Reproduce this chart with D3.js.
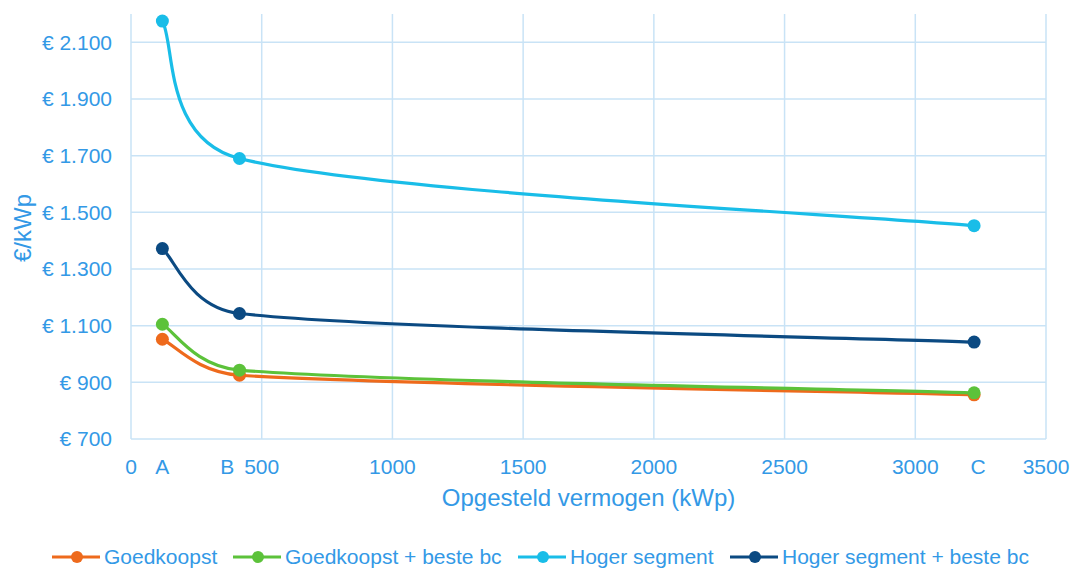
<!DOCTYPE html>
<html>
<head>
<meta charset="utf-8">
<script src="https://cdn.jsdelivr.net/npm/d3@7"></script>
<style>
  body { margin: 0; background: #fff; }
  text { font-family: "Liberation Sans", Arial, sans-serif; fill: #3399e6; }
</style>
</head>
<body>
<div id="chart"></div>
<script>
// data
let capacity = [120, 415, 3225];
let pointLabels = ["A", "B", "C"];
let labelPos = [120, 368, 3240];
let goedkoopst = [1052, 925, 856];
let goedkoopstBc = [1105, 943, 863];
let hoger = [2175, 1690, 1453];
let hogerBc = [1372, 1143, 1042];
let seriesNames = ["Goedkoopst", "Goedkoopst + beste bc", "Hoger segment", "Hoger segment + beste bc"];
let seriesColors = ["#ee6a1c", "#5cc23a", "#19bde8", "#0b4a82"];
let xTicks = [0, 500, 1000, 1500, 2000, 2500, 3000, 3500];
let yTicks = [700, 900, 1100, 1300, 1500, 1700, 1900, 2100];

// spreadsheet-style smoothed line: bezier handles of 1/6 of the neighbour chord,
// capped at half of the segment length
function SmoothCurve(context) {
    this._context = context;
}
SmoothCurve.prototype = {
    areaStart: function() { this._line = 0; },
    areaEnd: function() { this._line = NaN; },
    lineStart: function() { this._pts = []; },
    point: function(x, y) { this._pts.push([+x, +y]); },
    lineEnd: function() {
        let p = this._pts, c = this._context, n = p.length;
        if (!n) return;
        c.moveTo(p[0][0], p[0][1]);
        let handle = function(a, b, seg) {
            let dx = (b[0] - a[0]) / 6, dy = (b[1] - a[1]) / 6;
            let len = Math.hypot(dx, dy), cap = seg / 2;
            if (len > cap && len > 0) { dx *= cap / len; dy *= cap / len; }
            return [dx, dy];
        };
        for (let i = 0; i < n - 1; i++) {
            let p0 = p[Math.max(i - 1, 0)], p1 = p[i], p2 = p[i + 1], p3 = p[Math.min(i + 2, n - 1)];
            let seg = Math.hypot(p2[0] - p1[0], p2[1] - p1[1]);
            let h1 = handle(p0, p2, seg), h2 = handle(p1, p3, seg);
            c.bezierCurveTo(p1[0] + h1[0], p1[1] + h1[1], p2[0] - h2[0], p2[1] - h2[1], p2[0], p2[1]);
        }
    }
};
let curveSmooth = context => new SmoothCurve(context);

function gen_chart() {
    let width = 1075, height = 570;
    let margin = {left: 131, right: 29, top: 14, bottom: 131};

    let svg = d3.select("#chart").append("svg")
        .attr("width", width)
        .attr("height", height);

    let x = d3.scaleLinear().domain([0, 3500]).range([margin.left, width - margin.right]);
    let y = d3.scaleLinear().domain([700, 2200]).range([height - margin.bottom, margin.top]);

    let grid = "#c9e3f6";

    // gridlines
    svg.append("g").selectAll("line.v")
        .data(xTicks)
        .enter().append("line")
        .attr("x1", d => x(d)).attr("x2", d => x(d))
        .attr("y1", y(2200)).attr("y2", y(700))
        .attr("stroke", grid).attr("stroke-width", 1.5);

    svg.append("g").selectAll("line.h")
        .data(yTicks)
        .enter().append("line")
        .attr("x1", x(0)).attr("x2", x(3500))
        .attr("y1", d => y(d)).attr("y2", d => y(d))
        .attr("stroke", grid).attr("stroke-width", 1.5);

    // tick labels
    let fmt = d => "€ " + d3.format(",")(d).replace(/,/g, ".");
    svg.append("g").selectAll("text")
        .data(yTicks)
        .enter().append("text")
        .attr("x", x(0) - 19)
        .attr("y", d => y(d))
        .attr("dy", "0.35em")
        .attr("text-anchor", "end")
        .style("font-size", "21px")
        .text(fmt);

    svg.append("g").selectAll("text")
        .data(xTicks)
        .enter().append("text")
        .attr("x", d => x(d))
        .attr("y", y(700) + 35)
        .attr("text-anchor", "middle")
        .style("font-size", "21px")
        .text(d => d);

    svg.append("g").selectAll("text")
        .data(pointLabels)
        .enter().append("text")
        .attr("x", (d, i) => x(labelPos[i]))
        .attr("y", y(700) + 35)
        .attr("text-anchor", "middle")
        .style("font-size", "21px")
        .text(d => d);

    // axis titles
    svg.append("text")
        .attr("x", (x(0) + x(3500)) / 2)
        .attr("y", 506)
        .attr("text-anchor", "middle")
        .style("font-size", "24px")
        .text("Opgesteld vermogen (kWp)");

    svg.append("text")
        .attr("transform", "translate(31,228) rotate(-90)")
        .attr("text-anchor", "middle")
        .style("font-size", "24px")
        .text("€/kWp");

    // series
    let line = d3.line()
        .x((d, i) => x(capacity[i]))
        .y(d => y(d))
        .curve(curveSmooth);

    let seriesList = [goedkoopst, goedkoopstBc, hoger, hogerBc];
    seriesList.forEach(function(vals, s) {
        let g = svg.append("g");
        g.append("path")
            .attr("d", line(vals))
            .attr("fill", "none")
            .attr("stroke", seriesColors[s])
            .attr("stroke-width", 3.2);
        g.selectAll("circle")
            .data(vals)
            .enter().append("circle")
            .attr("cx", (d, i) => x(capacity[i]))
            .attr("cy", d => y(d))
            .attr("r", 6.5)
            .attr("fill", seriesColors[s]);
    });

    // legend
    let legendX = [52, 233, 518, 730];
    let legend = svg.append("g");
    seriesNames.forEach(function(name, i) {
        let lg = legend.append("g").attr("transform", "translate(" + legendX[i] + ",557)");
        lg.append("line")
            .attr("x1", 0).attr("x2", 48)
            .attr("stroke", seriesColors[i]).attr("stroke-width", 3.2);
        lg.append("circle")
            .attr("cx", 25).attr("r", 6)
            .attr("fill", seriesColors[i]);
        lg.append("text")
            .attr("x", 52)
            .attr("dy", "0.35em")
            .style("font-size", "21px")
            .text(name);
    });
}

gen_chart();
</script>
</body>
</html>
